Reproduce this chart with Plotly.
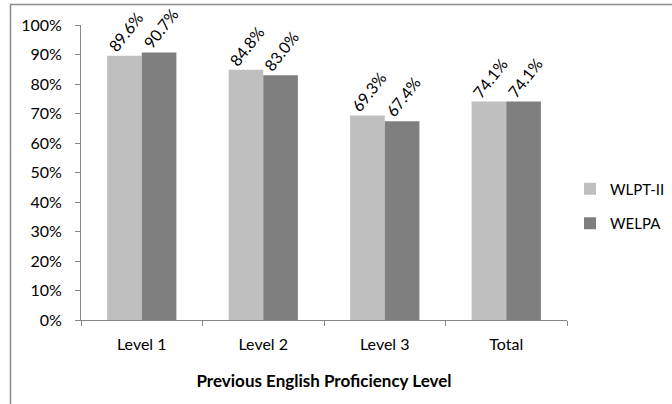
import plotly.graph_objects as go

categories = ["Level 1", "Level 2", "Level 3", "Total"]
wlpt_ii = [89.6, 84.8, 69.3, 74.1]
welpa = [90.7, 83.0, 67.4, 74.1]
y_ticks = [0, 10, 20, 30, 40, 50, 60, 70, 80, 90, 100]

FONT = "Lato, Open Sans, sans-serif"
W, H = 672, 404
L, R, T, B = 81, 105, 25, 84
pw, ph = W - L - R, H - T - B
BARGAP = 0.43


def px_x(x):
    return (x - L) / pw


def px_y(y):
    return (H - B - y) / ph


series = [("WLPT-II", wlpt_ii, "#BFBFBF"), ("WELPA", welpa, "#7F7F7F")]

fig = go.Figure()
for name, vals, color in series:
    fig.add_trace(go.Bar(
        name=name, legendgroup=name, x=categories, y=vals,
        marker_color=color, marker_line_width=0,
    ))

# rotated value labels sitting on each bar
bar_px = pw / len(categories) * (1 - BARGAP) / len(series)
annotations = []
for i, (name, vals, _) in enumerate(series):
    offset = (i - (len(series) - 1) / 2) * bar_px
    for cat, v in zip(categories, vals):
        annotations.append(dict(
            x=cat, y=v, xref="x", yref="y", text=f"{v:.1f}%", showarrow=False,
            textangle=-52, xanchor="center", yanchor="bottom",
            xshift=offset + 1, yshift=-2,
            font=dict(family=FONT, size=16, color="#000000"),
        ))

fig.update_layout(
    width=W, height=H, margin=dict(l=L, r=R, t=T, b=B, autoexpand=False),
    paper_bgcolor="white", plot_bgcolor="white",
    barmode="group", bargap=BARGAP, bargroupgap=0,
    font=dict(family=FONT, size=16, color="#000000"),
    annotations=annotations,
    legend=dict(x=px_x(570), xanchor="left", y=px_y(206), yanchor="middle",
                font=dict(family=FONT, size=15), itemwidth=30, tracegroupgap=12,
                bgcolor="rgba(0,0,0,0)"),
    showlegend=True,
    xaxis=dict(showline=True, linecolor="#868686", linewidth=1, ticks="outside",
               tickson="boundaries", ticklen=5, tickcolor="#868686",
               ticklabelstandoff=10,
               tickfont=dict(family=FONT, size=16),
               title=dict(text="<b>Previous English Proficiency Level</b>",
                          font=dict(family=FONT, size=17), standoff=22)),
    yaxis=dict(range=[0, 100], tickvals=y_ticks, ticktext=[f"{v}%" for v in y_ticks],
               showgrid=False, zeroline=False, showline=True, linecolor="#868686",
               linewidth=1, ticks="outside", ticklen=5, tickcolor="#868686",
               ticklabelstandoff=10,
               tickfont=dict(family=FONT, size=16)),
    shapes=[dict(type="rect", xref="paper", yref="paper",
                 x0=px_x(10.5), x1=px_x(700), y0=px_y(440), y1=px_y(4.5),
                 line=dict(color="#8C8C8C", width=1.5), fillcolor="rgba(0,0,0,0)",
                 layer="below")],
)

fig.write_html("out.html")
